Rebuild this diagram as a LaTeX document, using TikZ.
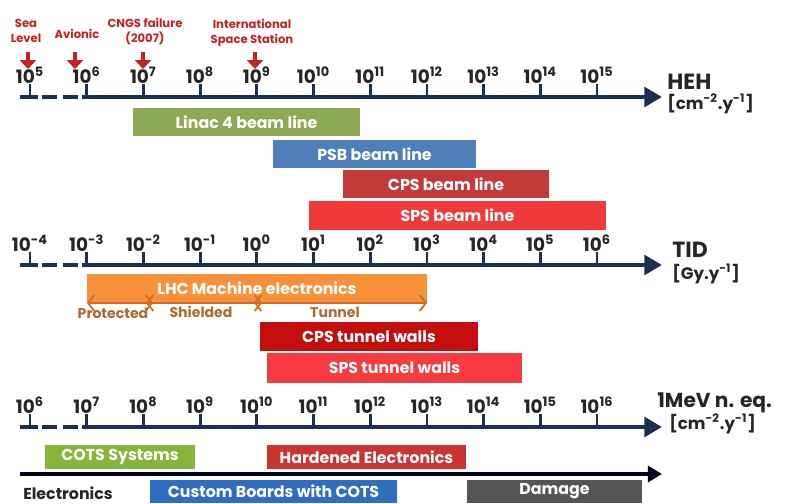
\documentclass[tikz,border=0pt]{standalone}
\usepackage{fontspec}
\setmainfont{Poppins}
\usepackage{tikz}
\usetikzlibrary{arrows.meta,positioning}
\usepackage{xcolor}

\definecolor{axisblue}{HTML}{1B3050}
\definecolor{hitred}{HTML}{C8221E}
\definecolor{linacgreen}{HTML}{8FAA55}
\definecolor{psbblue}{HTML}{4F7FB8}
\definecolor{cpsred}{HTML}{C33A3A}
\definecolor{spsred}{HTML}{F03A3A}
\definecolor{lhcorange}{HTML}{F8923A}
\definecolor{phasebrown}{HTML}{B06A30}
\definecolor{phaseline}{HTML}{D06A25}
\definecolor{cpswall}{HTML}{C40D0D}
\definecolor{spswall}{HTML}{F53B3F}
\definecolor{cotsgreen}{HTML}{86B43C}
\definecolor{hardred}{HTML}{CC3333}
\definecolor{custblue}{HTML}{2F6DC0}
\definecolor{damgrey}{HTML}{555555}

\tikzset{
	axis/.style={draw=axisblue,line width=2.6pt},
	tick/.style={draw=axisblue,line width=1.6pt},
	ticklab/.style={inner sep=0pt,font=\fontsize{10.5}{11}\selectfont\bfseries,text=black!85},
	unitlab/.style={inner sep=0pt,anchor=west,align=left,font=\fontsize{9.5}{10}\selectfont\bfseries,text=black!85},
	hitlab/.style={inner sep=0pt,align=center,font=\fontsize{6.6}{8.5}\selectfont\bfseries,text=hitred},
	hitarrow/.style={draw=hitred,line width=2.6pt,-{Triangle[length=5pt,width=9pt]}},
	bar/.style={inner sep=0pt,text=white,font=\fontsize{9}{10}\selectfont\bfseries},
	phase/.style={draw=phaseline,line width=1pt,{Straight Barb[length=3.5pt,width=9pt]}-{Straight Barb[length=3.5pt,width=9pt]}},
	phaselab/.style={inner sep=0pt,text=phasebrown,font=\fontsize{8}{9}\selectfont\bfseries}
}

\begin{document}
\begin{tikzpicture}[x=0.02cm,y=-0.02cm]
	\useasboundingbox (0,0) rectangle (786,503);

	% three axes
	\foreach \ax/\yy in {heh/97,tid/265,neq/427}{
		\coordinate (\ax a) at (20,\yy);
		\coordinate (\ax b) at (38,\yy);
		\coordinate (\ax c) at (42,\yy);
		\coordinate (\ax d) at (57,\yy);
		\coordinate (\ax e) at (63,\yy);
		\coordinate (\ax f) at (78,\yy);
		\coordinate (\ax g) at (82,\yy);
		\coordinate (\ax z) at (662,\yy);
		\draw[axis] (\ax a) -- (\ax b);
		\draw[axis] (\ax c) -- (\ax d);
		\draw[axis] (\ax e) -- (\ax f);
		\draw[axis,-{Triangle[length=10pt,width=11pt]}] (\ax g) -- (\ax z);
	}

	% decades
	\foreach \n [count=\i from 0] in {5,...,15}{
		\coordinate (heht\i) at (30+56.7*\i,97);
		\draw[tick] (heht\i) -- ++(0,-13);
		\node[ticklab] (hehl\i) at (30+56.7*\i,75) {10\textsuperscript{\n}};
	}
	\foreach \n [count=\i from 0] in {-4,...,6}{
		\coordinate (tidt\i) at (30+56.7*\i,265);
		\draw[tick] (tidt\i) -- ++(0,-13);
		\node[ticklab] (tidl\i) at (30+56.7*\i,243) {10\textsuperscript{\n}};
	}
	\foreach \n [count=\i from 0] in {6,...,16}{
		\coordinate (neqt\i) at (30+56.7*\i,427);
		\draw[tick] (neqt\i) -- ++(0,-13);
		\node[ticklab] (neql\i) at (30+56.7*\i,405) {10\textsuperscript{\n}};
	}

	\node[unitlab,font=\fontsize{12.5}{13}\selectfont\bfseries] (heh) at (667,82) {HEH};
	\node[unitlab] (hehu) at (667,104) {[cm\textsuperscript{-2}.y\textsuperscript{-1}]};
	\node[unitlab,font=\fontsize{12.5}{13}\selectfont\bfseries] (tid) at (672,250) {TID};
	\node[unitlab] (tidu) at (672,274) {[Gy.y\textsuperscript{-1}]};
	\node[unitlab,font=\fontsize{11.5}{12}\selectfont\bfseries] (neq) at (657,403) {1MeV n. eq.};
	\node[unitlab] (nequ) at (669,424) {[cm\textsuperscript{-2}.y\textsuperscript{-1}]};

	% environments
	\node[hitlab] (sea) at (26,31) {Sea\\Level};
	\node[hitlab] (avi) at (77,34) {Avionic};
	\node[hitlab] (cngs) at (145,32) {CNGS failure\\(2007)};
	\node[hitlab] (iss) at (252,33) {International\\Space Station};
	\foreach \h/\xx in {sea/28,avi/75,cngs/143,iss/255}{
		\coordinate (\h top) at (\xx,52);
		\coordinate (\h tip) at (\xx,69);
		\draw[hitarrow] (\h top) -- (\h tip);
	}

	% beam lines
	\node[bar,fill=linacgreen,minimum width=4.54cm,minimum height=0.56cm] (linac) at (246.5,122) {Linac 4 beam line};
	\node[bar,fill=psbblue,minimum width=4.06cm,minimum height=0.56cm] (psb) at (374.5,154) {PSB beam line};
	\node[bar,fill=cpsred,minimum width=4.12cm,minimum height=0.56cm] (cps) at (446,184) {CPS beam line};
	\node[bar,fill=spsred,minimum width=5.94cm,minimum height=0.58cm] (sps) at (457.5,215.5) {SPS beam line};

	% machine
	\node[bar,fill=lhcorange,minimum width=6.8cm,minimum height=0.58cm] (lhc) at (257,288) {LHC Machine electronics};
	\coordinate (p0) at (87,303);
	\coordinate (p1) at (153,303);
	\coordinate (p2) at (146,303);
	\coordinate (p3) at (262,303);
	\coordinate (p4) at (254,303);
	\coordinate (p5) at (427,303);
	\draw[phase] (p0) -- (p1);
	\draw[phase] (p2) -- (p3);
	\draw[phase] (p4) -- (p5);
	\node[phaselab] (prot) at (113,313) {Protected};
	\node[phaselab] (shie) at (201,312) {Shielded};
	\node[phaselab] (tunn) at (335,312) {Tunnel};
	\node[bar,fill=cpswall,minimum width=4.36cm,minimum height=0.58cm] (cpsw) at (369,336.5) {CPS tunnel walls};
	\node[bar,fill=spswall,minimum width=5.1cm,minimum height=0.6cm] (spsw) at (394.5,368) {SPS tunnel walls};

	% electronics
	\coordinate (ea) at (20,474);
	\coordinate (eb) at (662,474);
	\draw[draw=black!90!blue,line width=2.2pt,-{Triangle[length=8pt,width=9pt]}] (ea) -- (eb);
	\node[bar,fill=cotsgreen,minimum width=3cm,minimum height=0.48cm] (cots) at (120,457) {COTS Systems};
	\node[bar,fill=hardred,minimum width=3.98cm,minimum height=0.48cm] (hard) at (366.5,457) {Hardened Electronics};
	\node[inner sep=0pt,font=\fontsize{9}{10}\selectfont\bfseries,text=black!85] (elec) at (68,493) {Electronics};
	\node[bar,fill=custblue,minimum width=4.94cm,minimum height=0.46cm] (cust) at (273.5,491.5) {Custom Boards with COTS};
	\node[bar,fill=damgrey,minimum width=3.5cm,minimum height=0.46cm] (dam) at (554.5,491.5) {Damage};
\end{tikzpicture}
\end{document}
